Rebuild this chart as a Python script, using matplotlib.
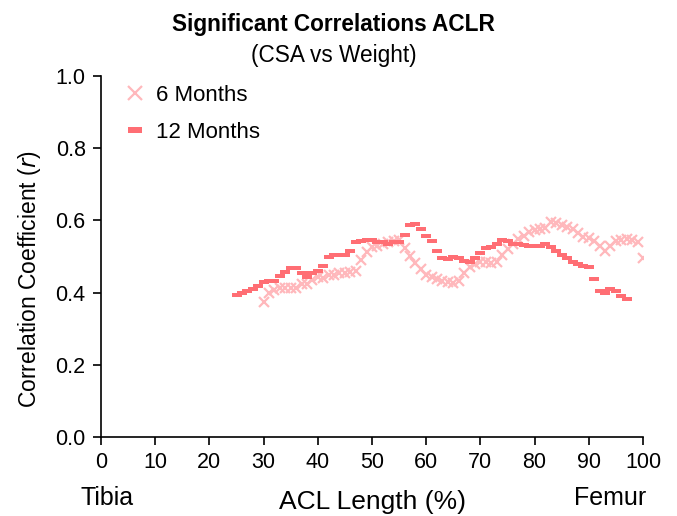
import numpy as np
import matplotlib
matplotlib.use("Agg")
import matplotlib.pyplot as plt

plt.rcParams['font.family'] = ['Liberation Sans', 'DejaVu Sans']

# ACL length (%) and correlation coefficients
x_6m = np.arange(30, 101)
r_6m = [0.375, 0.398, 0.407, 0.412, 0.412, 0.412, 0.412, 0.424, 0.424, 0.435,
        0.444, 0.441, 0.449, 0.449, 0.453, 0.453, 0.458, 0.461, 0.490, 0.513,
        0.527, 0.530, 0.534, 0.539, 0.543, 0.546, 0.523, 0.502, 0.481, 0.465,
        0.449, 0.444, 0.438, 0.432, 0.428, 0.426, 0.432, 0.453, 0.472, 0.478,
        0.486, 0.484, 0.481, 0.486, 0.504, 0.520, 0.536, 0.548, 0.558, 0.569,
        0.573, 0.576, 0.578, 0.595, 0.592, 0.587, 0.583, 0.576, 0.564, 0.555,
        0.550, 0.543, 0.530, 0.515, 0.530, 0.543, 0.546, 0.548, 0.546, 0.539,
        0.497]

x_12m = np.arange(25, 98)
r_12m = [0.393, 0.398, 0.404, 0.410, 0.419, 0.428, 0.432, 0.432, 0.447, 0.458,
         0.467, 0.467, 0.453, 0.444, 0.453, 0.461, 0.475, 0.500, 0.504, 0.504,
         0.504, 0.515, 0.539, 0.544, 0.546, 0.546, 0.541, 0.539, 0.536, 0.539,
         0.539, 0.560, 0.587, 0.590, 0.576, 0.558, 0.544, 0.516, 0.497, 0.493,
         0.500, 0.497, 0.488, 0.486, 0.497, 0.511, 0.523, 0.527, 0.536, 0.546,
         0.543, 0.536, 0.534, 0.532, 0.530, 0.530, 0.530, 0.534, 0.527, 0.515,
         0.505, 0.495, 0.484, 0.478, 0.474, 0.472, 0.438, 0.404, 0.398, 0.409,
         0.404, 0.391, 0.382]

x_ticks = np.arange(0, 101, 10)
y_ticks = np.arange(0, 1.01, 0.2)

# flat bar marker for the 12 month series
bar = [(-1, -0.42), (1, -0.42), (1, 0.42), (-1, 0.42), (-1, -0.42)]

fig = plt.figure(figsize=(6.77, 5.16), dpi=100)
ax = fig.add_axes([0.1492, 0.1531, 0.8006, 0.6996])

ax.plot(x_6m, r_6m, linestyle='none', marker='x', markersize=6.5,
        markeredgewidth=1.6, color='#FFB8BC', label='6 Months')
ax.plot(x_12m, r_12m, linestyle='none', marker=bar, markersize=6.5,
        markeredgewidth=0, color='#FF6E74', label='12 Months')

ax.set_xlim(0, 100)
ax.set_ylim(0, 1.0)
ax.set_xticks(x_ticks)
ax.set_yticks(y_ticks)
ax.set_yticklabels([f"{v:.1f}" for v in y_ticks])
ax.tick_params(labelsize=15.5, length=6, width=1.2, direction='out', pad=5)
for s in ['top', 'right']:
    ax.spines[s].set_visible(False)
for s in ['left', 'bottom']:
    ax.spines[s].set_linewidth(1.2)

ax.set_ylabel('Correlation Coefficient ($\\mathit{r}$)', fontsize=16.5)
ax.yaxis.set_label_coords(-0.107, 0.438)
ax.set_xlabel('ACL Length (%)', fontsize=19, labelpad=12)
ax.text(0.011, -0.17, 'Tibia', transform=ax.transAxes, fontsize=18,
        ha='center', va='center')
ax.text(0.939, -0.17, 'Femur', transform=ax.transAxes, fontsize=18,
        ha='center', va='center')

fig.text(0.493, 0.952, 'Significant Correlations ACLR', fontsize=16.3,
         fontweight='bold', ha='center', va='center')
fig.text(0.493, 0.893, '(CSA vs Weight)', fontsize=16.3, ha='center', va='center')

ax.legend(loc='upper left', frameon=False, fontsize=16, handlelength=1,
          handletextpad=0.45, labelspacing=0.72, borderaxespad=0,
          markerscale=1.5, bbox_to_anchor=(0.026, 1.0))

fig.savefig('out.png', dpi=100)
